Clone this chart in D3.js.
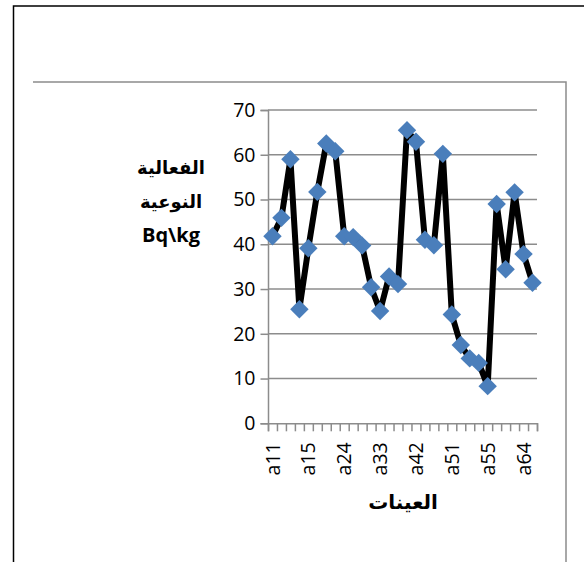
<!DOCTYPE html>
<html>
<head>
<meta charset="utf-8">
<script src="https://cdn.jsdelivr.net/npm/d3@7"></script>
<style>
  html, body { margin: 0; padding: 0; background: #fff; }
  svg { display: block; }
  .tick text { font-family: "Open Sans", "Liberation Sans", sans-serif; font-size: 19.5px; fill: #000; }
</style>
</head>
<body>
<div id="chart"></div>
<script>
// Sample codes (x axis) and measured specific activity in Bq/kg
const samples = [
  "a11","a12","a13","a14","a15",
  "a21","a22","a23","a24","a25",
  "a31","a32","a33","a34","a35",
  "a41","a42","a43","a44","a45",
  "a51","a52","a53","a54","a55",
  "a61","a62","a63","a64","a65"
];
const activity = [
  41.8, 45.9, 59.0, 25.5, 39.1,
  51.7, 62.5, 60.8, 41.8, 41.6,
  39.7, 30.4, 25.1, 32.8, 31.1,
  65.5, 62.9, 41.0, 39.8, 60.2,
  24.3, 17.5, 14.5, 13.5, 8.3,
  49.0, 34.4, 51.6, 37.8, 31.4
];
const yTicks = [0, 10, 20, 30, 40, 50, 60, 70];
const labelledSamples = ["a11","a15","a24","a33","a42","a51","a55","a64"];
const yTitleLines = ["الفعالية", "النوعية", "Bq\\kg"];
const xTitle = "العينات";

const W = 584, H = 562;
const plot = { left: 268, right: 537, top: 110, bottom: 423.3 };

const svg = d3.select("#chart").append("svg")
  .attr("width", W).attr("height", H);

// outer page frame (black) and chart-area frame (grey)
svg.append("path")
  .attr("d", `M13.5,${H} V6 H${W}`)
  .attr("fill", "none").attr("stroke", "#000").attr("stroke-width", 1.5);
svg.append("path")
  .attr("d", `M33,82 H566 V${H}`)
  .attr("fill", "none").attr("stroke", "#8c8c8c").attr("stroke-width", 1.5);

const x = d3.scaleBand().domain(samples).range([plot.left, plot.right]).padding(0);
const y = d3.scaleLinear().domain([0, 70]).range([plot.bottom, plot.top]);
const cx = d => x(d) + x.bandwidth() / 2;

// horizontal gridlines
svg.append("g").selectAll("line")
  .data(yTicks.filter(v => v > 0))
  .join("line")
  .attr("x1", plot.left).attr("x2", plot.right)
  .attr("y1", d => y(d)).attr("y2", d => y(d))
  .attr("stroke", "#8c8c8c").attr("stroke-width", 1.5);

// y axis
const yAxis = svg.append("g")
  .attr("transform", `translate(${plot.left},0)`)
  .call(d3.axisLeft(y).tickValues(yTicks).tickSize(7.5).tickPadding(5).tickFormat(d3.format("d")));
yAxis.select(".domain").attr("stroke", "#8c8c8c").attr("stroke-width", 1.5);
yAxis.selectAll(".tick line").attr("stroke", "#8c8c8c").attr("stroke-width", 1.5);

// x axis: tick marks on category boundaries
const xIdx = d3.scaleLinear().domain([0, samples.length]).range([plot.left, plot.right]);
const xTickAxis = svg.append("g")
  .attr("transform", `translate(0,${plot.bottom})`)
  .call(d3.axisBottom(xIdx).tickValues(d3.range(samples.length + 1)).tickSize(8).tickFormat(""));
xTickAxis.select(".domain").attr("stroke", "#8c8c8c").attr("stroke-width", 1.5);
xTickAxis.selectAll(".tick line").attr("stroke", "#8c8c8c").attr("stroke-width", 1.5);

// x axis: rotated category labels
const xLabelAxis = svg.append("g")
  .attr("transform", `translate(0,${plot.bottom})`)
  .call(d3.axisBottom(x).tickValues(labelledSamples).tickSize(0));
xLabelAxis.select(".domain").remove();
xLabelAxis.selectAll(".tick text")
  .attr("transform", "rotate(-90)")
  .attr("x", -19).attr("y", 0).attr("dy", "0.36em")
  .attr("text-anchor", "end");

// data line
const line = d3.line().x((d, i) => cx(samples[i])).y(d => y(d));
svg.append("path")
  .datum(activity)
  .attr("d", line)
  .attr("fill", "none")
  .attr("stroke", "#000")
  .attr("stroke-width", 6)
  .attr("stroke-linejoin", "round");

// diamond markers
const diamond = d3.symbol(d3.symbolSquare, 170);
svg.append("g").selectAll("path")
  .data(activity)
  .join("path")
  .attr("d", diamond)
  .attr("transform", (d, i) => `translate(${cx(samples[i])},${y(d)}) rotate(45)`)
  .attr("fill", "#4a7ebb");

// y axis title (three lines)
svg.append("g").selectAll("text")
  .data(yTitleLines)
  .join("text")
  .attr("x", 171)
  .attr("y", (d, i) => 168 + i * 33.5)
  .attr("dy", "0.35em")
  .attr("text-anchor", "middle")
  .attr("font-family", (d, i) => i < 2 ? "DejaVu Sans" : "Open Sans, Liberation Sans, sans-serif")
  .attr("font-weight", "bold")
  .attr("font-size", (d, i) => i < 2 ? 18 : 20)
  .text(d => d);

// x axis title
svg.append("text")
  .attr("x", 403).attr("y", 502).attr("dy", "0.35em")
  .attr("text-anchor", "middle")
  .attr("font-family", "DejaVu Sans")
  .attr("font-weight", "bold")
  .attr("font-size", 20)
  .text(xTitle);
</script>
</body>
</html>
